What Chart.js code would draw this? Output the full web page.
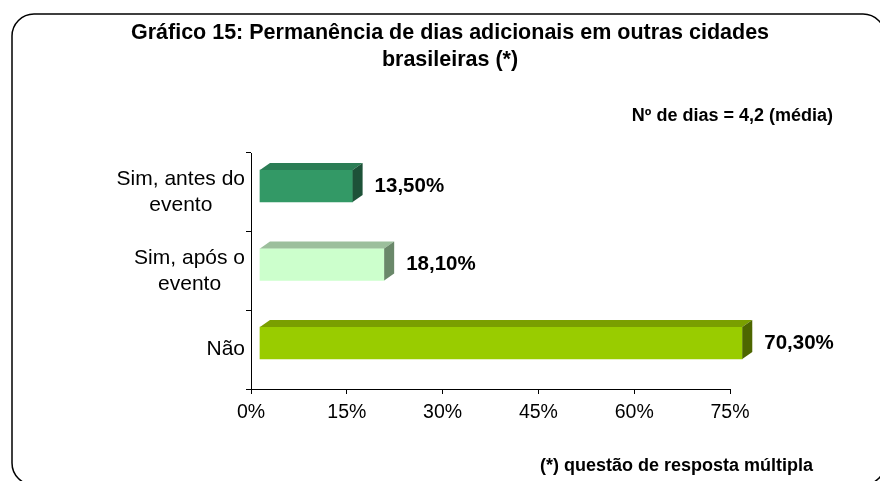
<!DOCTYPE html>
<html lang="pt-BR">
<head>
<meta charset="utf-8">
<title>Gráfico 15</title>
<script src="https://cdn.jsdelivr.net/npm/chart.js@4.4.0/dist/chart.umd.min.js"></script>
<style>
  html, body { margin: 0; padding: 0; background: #fff; }
  #caixa { position: relative; width: 880px; height: 481px; }
</style>
</head>
<body>
<div id="caixa"><canvas id="grafico"></canvas></div>
<script>
// Dados
const categorias = [["Sim, antes do", "evento"], ["Sim, após o", "evento"], ["Não"]];
const percentuais = [13.5, 18.1, 70.3];
const rotulosValor = ["13,50%", "18,10%", "70,30%"];
const ticksEixo = [0, 15, 30, 45, 60, 75];

const titulo = ["Gráfico 15: Permanência de dias adicionais em outras cidades", "brasileiras (*)"];
const notaMedia = "Nº de dias = 4,2 (média)";
const rodape = "(*) questão de resposta múltipla";

// Cores das faces das barras (frente, topo, lado)
const corFrente = ["#339966", "#ccffcc", "#99cc00"];
const corTopo = ["#2b7d55", "#9cbf9c", "#7a9f00"];
const corLado = ["#1d5238", "#6a886a", "#4d6600"];

const FONTE = "'Liberation Sans', Arial, sans-serif";
const DX = 10, DY = 7;

// Desenha faces 3D, rótulos de valor, categorias, moldura e textos
const efeito3d = {
  id: "efeito3d",
  afterDatasetsDraw(chart) {
    const ctx = chart.ctx;
    const meta = chart.getDatasetMeta(0);
    ctx.save();
    meta.data.forEach((barra, i) => {
      const p = barra.getProps(["x", "y", "base", "height"], true);
      const esq = p.base, dir = p.x;
      const topo = p.y - p.height / 2, baixo = p.y + p.height / 2;
      ctx.fillStyle = corTopo[i];
      ctx.beginPath();
      ctx.moveTo(esq, topo);
      ctx.lineTo(esq + DX, topo - DY);
      ctx.lineTo(dir + DX, topo - DY);
      ctx.lineTo(dir, topo);
      ctx.closePath();
      ctx.fill();
      ctx.fillStyle = corLado[i];
      ctx.beginPath();
      ctx.moveTo(dir, topo);
      ctx.lineTo(dir + DX, topo - DY);
      ctx.lineTo(dir + DX, baixo - DY);
      ctx.lineTo(dir, baixo);
      ctx.closePath();
      ctx.fill();

      ctx.fillStyle = "#000";
      ctx.font = "bold 20.5px " + FONTE;
      ctx.textAlign = "left";
      ctx.textBaseline = "middle";
      ctx.fillText(rotulosValor[i], dir + DX + 12, p.y);
    });
    ctx.restore();
  },
  afterDraw(chart) {
    const ctx = chart.ctx;
    const y = chart.scales.y;
    ctx.save();
    // rótulos das categorias: linhas centradas entre si, bloco alinhado à direita
    ctx.font = "21px " + FONTE;
    ctx.fillStyle = "#000";
    ctx.textBaseline = "middle";
    ctx.textAlign = "center";
    const direita = chart.chartArea.left - 6;
    categorias.forEach((linhas, i) => {
      const cy = y.getPixelForValue(i);
      const larg = Math.max(...linhas.map(l => ctx.measureText(l).width));
      linhas.forEach((l, j) => {
        ctx.fillText(l, direita - larg / 2, cy + (j - (linhas.length - 1) / 2) * 26);
      });
    });

    // título
    ctx.font = "bold 21.5px " + FONTE;
    ctx.textBaseline = "alphabetic";
    ctx.fillText(titulo[0], 450, 39);
    ctx.fillText(titulo[1], 450, 66);

    // nota e rodapé
    ctx.font = "bold 18px " + FONTE;
    ctx.textAlign = "right";
    ctx.fillText(notaMedia, 833, 121);
    ctx.fillText(rodape, 813, 471);

    // moldura arredondada
    ctx.strokeStyle = "#000";
    ctx.lineWidth = 1.5;
    ctx.beginPath();
    ctx.roundRect(12, 14, 873, 471, 22);
    ctx.stroke();
    ctx.restore();
  }
};

new Chart(document.getElementById("grafico"), {
  type: "bar",
  data: {
    labels: categorias,
    datasets: [{
      data: percentuais.map((v, i) => ({ x: v, y: i })),
      backgroundColor: corFrente,
      borderWidth: 0,
      barThickness: 32,
      xAxisID: "x2",
      yAxisID: "y2",
      clip: false
    }]
  },
  options: {
    indexAxis: "y",
    responsive: true,
    maintainAspectRatio: false,
    animation: false,
    layout: { padding: { top: 153, right: 150, bottom: 52, left: 0 } },
    plugins: {
      legend: { display: false },
      tooltip: { enabled: false }
    },
    scales: {
      x: {
        type: "linear",
        min: 0,
        max: 75,
        afterBuildTicks: (s) => { s.ticks = ticksEixo.map(v => ({ value: v })); },
        afterFit: (s) => { s.height = 40; },
        border: { color: "#000", width: 1 },
        grid: { drawOnChartArea: false, tickLength: 5, color: "#000" },
        ticks: {
          padding: 7,
          color: "#000",
          font: { family: FONTE, size: 19.5 },
          callback: (v) => v + "%"
        }
      },
      // eixos ocultos que reproduzem a perspectiva 3D das barras do original
      x2: {
        type: "linear",
        display: false,
        offset: false,
        min: -1.31,
        max: 68.51
      },
      y2: {
        type: "linear",
        display: false,
        offset: false,
        reverse: true,
        min: -0.42,
        max: 2.586
      },
      y: {
        type: "category",
        afterFit: (s) => { s.width = 251; },
        border: { color: "#000", width: 1 },
        grid: { offset: true, drawOnChartArea: false, tickLength: 5, color: "#000" },
        ticks: { display: false }
      }
    }
  },
  plugins: [efeito3d]
});
</script>
</body>
</html>
